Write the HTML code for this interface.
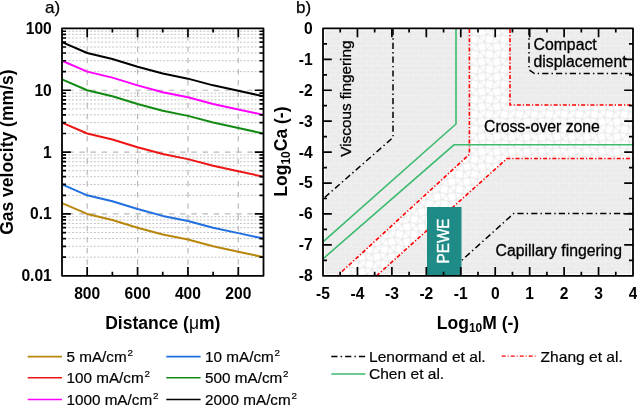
<!DOCTYPE html>
<html><head><meta charset="utf-8"><style>
html,body{margin:0;padding:0;background:#fff;overflow:hidden;}
svg{display:block;will-change:transform;}
text{font-family:"Liberation Sans",sans-serif;fill:#000;}
.b15{font-size:15.6px;font-weight:bold;}
.b17{font-size:17.5px;font-weight:bold;}
.r15{font-size:15.8px;stroke:#000;stroke-width:0.3px;}
.lg{font-size:15.25px;stroke:#000;stroke-width:0.2px;}
.lg2{font-size:15.55px;stroke:#000;stroke-width:0.2px;}
.v15{font-size:15.3px;stroke:#000;stroke-width:0.3px;}
.r16{font-size:17px;stroke:#000;stroke-width:0.25px;}
</style></head><body>
<svg width="637" height="405" viewBox="0 0 637 405">
<line x1="62.0" y1="257.18" x2="263.5" y2="257.18" stroke="#c2c2c2" stroke-width="1" stroke-dasharray="1.9 1.75" stroke-dashoffset="0.9"/>
<line x1="62.0" y1="246.29" x2="263.5" y2="246.29" stroke="#c2c2c2" stroke-width="1" stroke-dasharray="1.9 1.75" stroke-dashoffset="0.9"/>
<line x1="62.0" y1="238.56" x2="263.5" y2="238.56" stroke="#c2c2c2" stroke-width="1" stroke-dasharray="1.9 1.75" stroke-dashoffset="0.9"/>
<line x1="62.0" y1="232.57" x2="263.5" y2="232.57" stroke="#c2c2c2" stroke-width="1" stroke-dasharray="1.9 1.75" stroke-dashoffset="0.9"/>
<line x1="62.0" y1="227.67" x2="263.5" y2="227.67" stroke="#c2c2c2" stroke-width="1" stroke-dasharray="1.9 1.75" stroke-dashoffset="0.9"/>
<line x1="62.0" y1="223.53" x2="263.5" y2="223.53" stroke="#c2c2c2" stroke-width="1" stroke-dasharray="1.9 1.75" stroke-dashoffset="0.9"/>
<line x1="62.0" y1="219.94" x2="263.5" y2="219.94" stroke="#c2c2c2" stroke-width="1" stroke-dasharray="1.9 1.75" stroke-dashoffset="0.9"/>
<line x1="62.0" y1="216.78" x2="263.5" y2="216.78" stroke="#c2c2c2" stroke-width="1" stroke-dasharray="1.9 1.75" stroke-dashoffset="0.9"/>
<line x1="62.0" y1="195.33" x2="263.5" y2="195.33" stroke="#c2c2c2" stroke-width="1" stroke-dasharray="1.9 1.75" stroke-dashoffset="0.9"/>
<line x1="62.0" y1="184.44" x2="263.5" y2="184.44" stroke="#c2c2c2" stroke-width="1" stroke-dasharray="1.9 1.75" stroke-dashoffset="0.9"/>
<line x1="62.0" y1="176.71" x2="263.5" y2="176.71" stroke="#c2c2c2" stroke-width="1" stroke-dasharray="1.9 1.75" stroke-dashoffset="0.9"/>
<line x1="62.0" y1="170.72" x2="263.5" y2="170.72" stroke="#c2c2c2" stroke-width="1" stroke-dasharray="1.9 1.75" stroke-dashoffset="0.9"/>
<line x1="62.0" y1="165.82" x2="263.5" y2="165.82" stroke="#c2c2c2" stroke-width="1" stroke-dasharray="1.9 1.75" stroke-dashoffset="0.9"/>
<line x1="62.0" y1="161.68" x2="263.5" y2="161.68" stroke="#c2c2c2" stroke-width="1" stroke-dasharray="1.9 1.75" stroke-dashoffset="0.9"/>
<line x1="62.0" y1="158.09" x2="263.5" y2="158.09" stroke="#c2c2c2" stroke-width="1" stroke-dasharray="1.9 1.75" stroke-dashoffset="0.9"/>
<line x1="62.0" y1="154.93" x2="263.5" y2="154.93" stroke="#c2c2c2" stroke-width="1" stroke-dasharray="1.9 1.75" stroke-dashoffset="0.9"/>
<line x1="62.0" y1="133.48" x2="263.5" y2="133.48" stroke="#c2c2c2" stroke-width="1" stroke-dasharray="1.9 1.75" stroke-dashoffset="0.9"/>
<line x1="62.0" y1="122.59" x2="263.5" y2="122.59" stroke="#c2c2c2" stroke-width="1" stroke-dasharray="1.9 1.75" stroke-dashoffset="0.9"/>
<line x1="62.0" y1="114.86" x2="263.5" y2="114.86" stroke="#c2c2c2" stroke-width="1" stroke-dasharray="1.9 1.75" stroke-dashoffset="0.9"/>
<line x1="62.0" y1="108.87" x2="263.5" y2="108.87" stroke="#c2c2c2" stroke-width="1" stroke-dasharray="1.9 1.75" stroke-dashoffset="0.9"/>
<line x1="62.0" y1="103.97" x2="263.5" y2="103.97" stroke="#c2c2c2" stroke-width="1" stroke-dasharray="1.9 1.75" stroke-dashoffset="0.9"/>
<line x1="62.0" y1="99.83" x2="263.5" y2="99.83" stroke="#c2c2c2" stroke-width="1" stroke-dasharray="1.9 1.75" stroke-dashoffset="0.9"/>
<line x1="62.0" y1="96.24" x2="263.5" y2="96.24" stroke="#c2c2c2" stroke-width="1" stroke-dasharray="1.9 1.75" stroke-dashoffset="0.9"/>
<line x1="62.0" y1="93.08" x2="263.5" y2="93.08" stroke="#c2c2c2" stroke-width="1" stroke-dasharray="1.9 1.75" stroke-dashoffset="0.9"/>
<line x1="62.0" y1="71.63" x2="263.5" y2="71.63" stroke="#c2c2c2" stroke-width="1" stroke-dasharray="1.9 1.75" stroke-dashoffset="0.9"/>
<line x1="62.0" y1="60.74" x2="263.5" y2="60.74" stroke="#c2c2c2" stroke-width="1" stroke-dasharray="1.9 1.75" stroke-dashoffset="0.9"/>
<line x1="62.0" y1="53.01" x2="263.5" y2="53.01" stroke="#c2c2c2" stroke-width="1" stroke-dasharray="1.9 1.75" stroke-dashoffset="0.9"/>
<line x1="62.0" y1="47.02" x2="263.5" y2="47.02" stroke="#c2c2c2" stroke-width="1" stroke-dasharray="1.9 1.75" stroke-dashoffset="0.9"/>
<line x1="62.0" y1="42.12" x2="263.5" y2="42.12" stroke="#c2c2c2" stroke-width="1" stroke-dasharray="1.9 1.75" stroke-dashoffset="0.9"/>
<line x1="62.0" y1="37.98" x2="263.5" y2="37.98" stroke="#c2c2c2" stroke-width="1" stroke-dasharray="1.9 1.75" stroke-dashoffset="0.9"/>
<line x1="62.0" y1="34.39" x2="263.5" y2="34.39" stroke="#c2c2c2" stroke-width="1" stroke-dasharray="1.9 1.75" stroke-dashoffset="0.9"/>
<line x1="62.0" y1="31.23" x2="263.5" y2="31.23" stroke="#c2c2c2" stroke-width="1" stroke-dasharray="1.9 1.75" stroke-dashoffset="0.9"/>
<line x1="62.0" y1="90.25" x2="263.5" y2="90.25" stroke="#b9b9b9" stroke-width="1.2" stroke-dasharray="5.5 5.7" stroke-dashoffset="5.1"/>
<line x1="62.0" y1="152.10" x2="263.5" y2="152.10" stroke="#b9b9b9" stroke-width="1.2" stroke-dasharray="5.5 5.7" stroke-dashoffset="5.1"/>
<line x1="62.0" y1="213.95" x2="263.5" y2="213.95" stroke="#b9b9b9" stroke-width="1.2" stroke-dasharray="5.5 5.7" stroke-dashoffset="5.1"/>
<line x1="87.19" y1="28.4" x2="87.19" y2="275.8" stroke="#b9b9b9" stroke-width="1.2" stroke-dasharray="5.5 5.7" stroke-dashoffset="4.3"/>
<line x1="137.56" y1="28.4" x2="137.56" y2="275.8" stroke="#b9b9b9" stroke-width="1.2" stroke-dasharray="5.5 5.7" stroke-dashoffset="4.3"/>
<line x1="187.94" y1="28.4" x2="187.94" y2="275.8" stroke="#b9b9b9" stroke-width="1.2" stroke-dasharray="5.5 5.7" stroke-dashoffset="4.3"/>
<line x1="238.31" y1="28.4" x2="238.31" y2="275.8" stroke="#b9b9b9" stroke-width="1.2" stroke-dasharray="5.5 5.7" stroke-dashoffset="4.3"/>
<polyline points="62.00,203.06 87.19,213.95 112.38,219.94 137.56,227.67 162.75,234.52 187.94,239.59 213.12,246.29 238.31,251.73 263.50,257.18" fill="none" stroke="#b8860b" stroke-width="2" stroke-linejoin="round"/>
<polyline points="62.00,184.44 87.19,195.33 112.38,201.33 137.56,209.05 162.75,215.90 187.94,220.97 213.12,227.67 238.31,233.11 263.50,238.56" fill="none" stroke="#1f6fe0" stroke-width="2" stroke-linejoin="round"/>
<polyline points="62.00,122.59 87.19,133.48 112.38,139.48 137.56,147.20 162.75,154.05 187.94,159.12 213.12,165.82 238.31,171.26 263.50,176.71" fill="none" stroke="#ee1515" stroke-width="2" stroke-linejoin="round"/>
<polyline points="62.00,79.36 87.19,90.25 112.38,96.24 137.56,103.97 162.75,110.82 187.94,115.89 213.12,122.59 238.31,128.03 263.50,133.48" fill="none" stroke="#138a13" stroke-width="2" stroke-linejoin="round"/>
<polyline points="62.00,60.74 87.19,71.63 112.38,77.63 137.56,85.35 162.75,92.20 187.94,97.27 213.12,103.97 238.31,109.41 263.50,114.86" fill="none" stroke="#ff00ff" stroke-width="2" stroke-linejoin="round"/>
<polyline points="62.00,42.12 87.19,53.01 112.38,59.01 137.56,66.73 162.75,73.58 187.94,78.65 213.12,85.35 238.31,90.79 263.50,96.24" fill="none" stroke="#000000" stroke-width="2" stroke-linejoin="round"/>
<path d="M62.0,257.18h4M263.5,257.18h-4M62.0,246.29h4M263.5,246.29h-4M62.0,238.56h4M263.5,238.56h-4M62.0,232.57h4M263.5,232.57h-4M62.0,227.67h4M263.5,227.67h-4M62.0,223.53h4M263.5,223.53h-4M62.0,219.94h4M263.5,219.94h-4M62.0,216.78h4M263.5,216.78h-4M62.0,213.95h8.8M263.5,213.95h-8.8M62.0,195.33h4M263.5,195.33h-4M62.0,184.44h4M263.5,184.44h-4M62.0,176.71h4M263.5,176.71h-4M62.0,170.72h4M263.5,170.72h-4M62.0,165.82h4M263.5,165.82h-4M62.0,161.68h4M263.5,161.68h-4M62.0,158.09h4M263.5,158.09h-4M62.0,154.93h4M263.5,154.93h-4M62.0,152.10h8.8M263.5,152.10h-8.8M62.0,133.48h4M263.5,133.48h-4M62.0,122.59h4M263.5,122.59h-4M62.0,114.86h4M263.5,114.86h-4M62.0,108.87h4M263.5,108.87h-4M62.0,103.97h4M263.5,103.97h-4M62.0,99.83h4M263.5,99.83h-4M62.0,96.24h4M263.5,96.24h-4M62.0,93.08h4M263.5,93.08h-4M62.0,90.25h8.8M263.5,90.25h-8.8M62.0,71.63h4M263.5,71.63h-4M62.0,60.74h4M263.5,60.74h-4M62.0,53.01h4M263.5,53.01h-4M62.0,47.02h4M263.5,47.02h-4M62.0,42.12h4M263.5,42.12h-4M62.0,37.98h4M263.5,37.98h-4M62.0,34.39h4M263.5,34.39h-4M62.0,31.23h4M263.5,31.23h-4M238.31,28.4v8.8M238.31,275.8v-8.8M213.12,28.4v4M213.12,275.8v-4M187.94,28.4v8.8M187.94,275.8v-8.8M162.75,28.4v4M162.75,275.8v-4M137.56,28.4v8.8M137.56,275.8v-8.8M112.38,28.4v4M112.38,275.8v-4M87.19,28.4v8.8M87.19,275.8v-8.8" stroke="#000" stroke-width="1.7" fill="none"/>
<rect x="62.0" y="28.4" width="201.5" height="247.4" fill="none" stroke="#000" stroke-width="1.8" stroke-linejoin="round"/>
<text x="51.8" y="33.90" class="b15" text-anchor="end">100</text>
<text x="51.8" y="95.75" class="b15" text-anchor="end">10</text>
<text x="51.8" y="157.60" class="b15" text-anchor="end">1</text>
<text x="51.8" y="219.45" class="b15" text-anchor="end">0.1</text>
<text x="51.8" y="281.30" class="b15" text-anchor="end">0.01</text>
<text x="87.19" y="298.5" class="b15" text-anchor="middle">800</text>
<text x="137.56" y="298.5" class="b15" text-anchor="middle">600</text>
<text x="187.94" y="298.5" class="b15" text-anchor="middle">400</text>
<text x="238.31" y="298.5" class="b15" text-anchor="middle">200</text>
<text x="162.8" y="329" class="b17" text-anchor="middle">Distance (<tspan font-weight="normal">μ</tspan>m)</text>
<text transform="translate(13.2,152.2) rotate(-90)" class="b17" text-anchor="middle">Gas velocity (mm/s)</text>
<text x="45" y="13" class="r16">a)</text>
<line x1="27.7" y1="356.6" x2="62.0" y2="356.6" stroke="#b8860b" stroke-width="1.6"/>
<text x="66.5" y="361.6" class="lg">5 mA/cm<tspan font-size="9.8" dx="0.8" dy="-6">2</tspan></text>
<line x1="166.3" y1="356.6" x2="200.60000000000002" y2="356.6" stroke="#1f6fe0" stroke-width="1.6"/>
<text x="205.10000000000002" y="361.6" class="lg">10 mA/cm<tspan font-size="9.8" dx="0.8" dy="-6">2</tspan></text>
<line x1="27.7" y1="377.8" x2="62.0" y2="377.8" stroke="#ee1515" stroke-width="1.6"/>
<text x="66.5" y="382.8" class="lg">100 mA/cm<tspan font-size="9.8" dx="0.8" dy="-6">2</tspan></text>
<line x1="166.3" y1="377.8" x2="200.60000000000002" y2="377.8" stroke="#138a13" stroke-width="1.6"/>
<text x="205.10000000000002" y="382.8" class="lg">500 mA/cm<tspan font-size="9.8" dx="0.8" dy="-6">2</tspan></text>
<line x1="27.7" y1="399.5" x2="62.0" y2="399.5" stroke="#ff00ff" stroke-width="1.6"/>
<text x="66.5" y="404.5" class="lg">1000 mA/cm<tspan font-size="9.8" dx="0.8" dy="-6">2</tspan></text>
<line x1="166.3" y1="399.5" x2="200.60000000000002" y2="399.5" stroke="#000000" stroke-width="1.6"/>
<text x="205.10000000000002" y="404.5" class="lg">2000 mA/cm<tspan font-size="9.8" dx="0.8" dy="-6">2</tspan></text>
<defs><pattern id="mesh" patternUnits="userSpaceOnUse" width="15.0" height="15.0" x="474.4" y="39.4"><path d="M-2.75,10.25L2.75,4.75M-2.75,10.25L4.75,12.25M-4.75,2.75L2.75,4.75M12.25,-4.75L10.25,2.75M4.75,-2.75L2.75,4.75M4.75,-2.75L10.25,2.75M2.75,4.75L4.75,12.25M2.75,4.75L10.25,2.75M12.25,10.25L4.75,12.25M12.25,10.25L10.25,2.75M12.25,10.25L10.25,17.75M12.25,10.25L17.75,4.75M12.25,10.25L19.75,12.25M4.75,12.25L2.75,19.75M4.75,12.25L10.25,17.75M10.25,2.75L17.75,4.75" stroke="#d8d8d8" stroke-width="0.65" fill="none"/></pattern><pattern id="brick" patternUnits="userSpaceOnUse" width="10.4" height="9.8" x="0" y="1.5"><path d="M0,0.25H10.4M0,5.15H10.4M2.6,0V4.9M7.8,4.9V9.8" stroke="#f4f4f4" stroke-width="0.6" fill="none"/></pattern><clipPath id="rc"><rect x="323.0" y="28.4" width="310.0" height="247.4"/></clipPath></defs>
<rect x="325.0" y="30.4" width="306.0" height="243.4" fill="#ebebeb"/>
<rect x="325.0" y="30.4" width="306.0" height="243.4" fill="url(#brick)"/>
<g clip-path="url(#rc)">
<path d="M469.4,26L469.4,154.3L332.73,280L371.83,280L507.0,158.5L640,158.5L640,105L510,105L510,26Z" fill="#fff"/>
<path d="M469.4,26L469.4,154.3L332.73,280L371.83,280L507.0,158.5L640,158.5L640,105L510,105L510,26Z" fill="url(#mesh)"/>
<path d="M469.40,29.00L469.40,154.30L337.30,275.80" stroke="#ff0000" stroke-width="1.6" fill="none" stroke-dasharray="4 2 1.2 2"/>
<path d="M376.50,275.80L507.00,158.50L634.00,158.50" stroke="#ff0000" stroke-width="1.6" fill="none" stroke-dasharray="4 2 1.2 2"/>
<path d="M510.00,29.00L510.00,105.00L634.00,105.00" stroke="#ff0000" stroke-width="1.6" fill="none" stroke-dasharray="4 2 1.2 2"/>
<path d="M456.00,28.00L456.00,124.00L323.00,241.80" stroke="#3cba6e" stroke-width="1.6" fill="none"/>
<path d="M634.00,144.80L454.00,144.80L323.00,258.80" stroke="#3cba6e" stroke-width="1.6" fill="none"/>
<path d="M393.00,29.00L393.00,137.50L323.00,198.90" stroke="#000" stroke-width="1.5" fill="none" stroke-dasharray="6.2 3.1 1.4 3.1"/>
<path d="M529.00,29.00L529.00,69.80L534.50,73.60L634.00,73.60" stroke="#000" stroke-width="1.5" fill="none" stroke-dasharray="6.2 3.1 1.4 3.1"/>
<path d="M634.00,213.50L513.70,213.50L444.60,275.80" stroke="#000" stroke-width="1.5" fill="none" stroke-dasharray="6.2 3.1 1.4 3.1"/>
<rect x="427" y="207" width="34.5" height="68.80000000000001" fill="#1f8b86"/>
</g>
<text transform="translate(449,241) rotate(-90) scale(1,1.06)" class="v15" style="fill:#fff;stroke:#fff" text-anchor="middle">PEWE</text>
<text transform="translate(350.8,98.6) rotate(-90)" class="v15" text-anchor="middle">Viscous fingering</text>
<text x="533.5" y="49.5" class="r15">Compact</text>
<text x="533.5" y="66.6" class="r15">displacement</text>
<text x="484" y="132" class="r15">Cross-over zone</text>
<text x="495.5" y="255.5" class="r15">Capillary fingering</text>
<path d="M323.0,43.86h4M633.0,43.86h-4M323.0,59.33h8.8M633.0,59.33h-8.8M323.0,74.79h4M633.0,74.79h-4M323.0,90.25h8.8M633.0,90.25h-8.8M323.0,105.71h4M633.0,105.71h-4M323.0,121.18h8.8M633.0,121.18h-8.8M323.0,136.64h4M633.0,136.64h-4M323.0,152.10h8.8M633.0,152.10h-8.8M323.0,167.56h4M633.0,167.56h-4M323.0,183.03h8.8M633.0,183.03h-8.8M323.0,198.49h4M633.0,198.49h-4M323.0,213.95h8.8M633.0,213.95h-8.8M323.0,229.41h4M633.0,229.41h-4M323.0,244.88h8.8M633.0,244.88h-8.8M323.0,260.34h4M633.0,260.34h-4M340.22,28.4v4M340.22,275.8v-4M357.44,28.4v8.8M357.44,275.8v-8.8M374.67,28.4v4M374.67,275.8v-4M391.89,28.4v8.8M391.89,275.8v-8.8M409.11,28.4v4M409.11,275.8v-4M426.33,28.4v8.8M426.33,275.8v-8.8M443.56,28.4v4M443.56,275.8v-4M460.78,28.4v8.8M460.78,275.8v-8.8M478.00,28.4v4M478.00,275.8v-4M495.22,28.4v8.8M495.22,275.8v-8.8M512.44,28.4v4M512.44,275.8v-4M529.67,28.4v8.8M529.67,275.8v-8.8M546.89,28.4v4M546.89,275.8v-4M564.11,28.4v8.8M564.11,275.8v-8.8M581.33,28.4v4M581.33,275.8v-4M598.56,28.4v8.8M598.56,275.8v-8.8M615.78,28.4v4M615.78,275.8v-4" stroke="#000" stroke-width="1.7" fill="none"/>
<rect x="323.0" y="28.4" width="310.0" height="247.4" fill="none" stroke="#000" stroke-width="1.8" stroke-linejoin="round"/>
<text x="312.6" y="33.80" class="b15" text-anchor="end">0</text>
<text x="312.6" y="64.73" class="b15" text-anchor="end">-1</text>
<text x="312.6" y="95.65" class="b15" text-anchor="end">-2</text>
<text x="312.6" y="126.58" class="b15" text-anchor="end">-3</text>
<text x="312.6" y="157.50" class="b15" text-anchor="end">-4</text>
<text x="312.6" y="188.43" class="b15" text-anchor="end">-5</text>
<text x="312.6" y="219.35" class="b15" text-anchor="end">-6</text>
<text x="312.6" y="250.28" class="b15" text-anchor="end">-7</text>
<text x="312.6" y="281.20" class="b15" text-anchor="end">-8</text>
<text x="323.00" y="298.5" class="b15" text-anchor="middle">-5</text>
<text x="357.44" y="298.5" class="b15" text-anchor="middle">-4</text>
<text x="391.89" y="298.5" class="b15" text-anchor="middle">-3</text>
<text x="426.33" y="298.5" class="b15" text-anchor="middle">-2</text>
<text x="460.78" y="298.5" class="b15" text-anchor="middle">-1</text>
<text x="495.22" y="298.5" class="b15" text-anchor="middle">0</text>
<text x="529.67" y="298.5" class="b15" text-anchor="middle">1</text>
<text x="564.11" y="298.5" class="b15" text-anchor="middle">2</text>
<text x="598.56" y="298.5" class="b15" text-anchor="middle">3</text>
<text x="633.00" y="298.5" class="b15" text-anchor="middle">4</text>
<text x="478" y="329" class="b17" text-anchor="middle">Log<tspan font-size="12" dy="3">10</tspan><tspan dy="-3">M (-)</tspan></text>
<text transform="translate(287,151.6) rotate(-90)" class="b17" text-anchor="middle">Log<tspan font-size="12" dy="3">10</tspan><tspan dy="-3">Ca (-)</tspan></text>
<text x="296" y="13" class="r16">b)</text>
<line x1="331.3" y1="356.5" x2="365.5" y2="356.5" stroke="#000" stroke-width="1.5" stroke-dasharray="6.2 3.1 1.4 3.1"/>
<text x="369" y="361.6" class="lg2">Lenormand et al.</text>
<line x1="331.3" y1="374" x2="365.5" y2="374" stroke="#3cba6e" stroke-width="1.6"/>
<text x="369" y="378.6" class="lg2">Chen et al.</text>
<line x1="501.7" y1="356.2" x2="535.5" y2="356.2" stroke="#ff0000" stroke-width="1.2" stroke-dasharray="4 2 1 2"/>
<text x="540.6" y="361.6" class="lg2">Zhang et al.</text>
</svg>
</body></html>
